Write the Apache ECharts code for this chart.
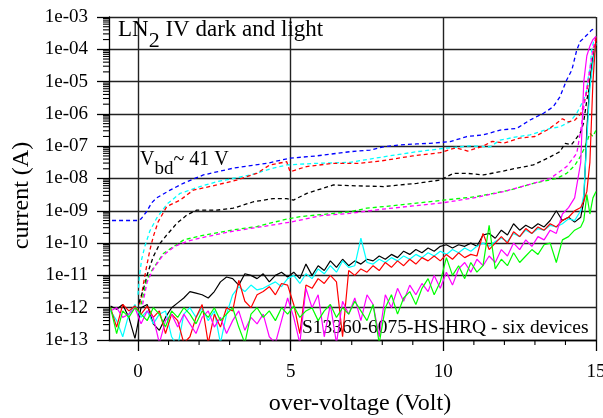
<!DOCTYPE html>
<html><head><meta charset="utf-8">
<script src="https://cdn.jsdelivr.net/npm/echarts@6/dist/echarts.min.js"></script>
<style>html,body{margin:0;padding:0;background:#fff}#c{width:603px;height:418px}</style>
</head><body><div id="c"></div>
<script>
// ---- axis ranges and tick labels ----
const xMin = -0.95, xMax = 15, yMinExp = -13, yMaxExp = -3;
const yTickLabels = ['1e-13','1e-12','1e-11','1e-10','1e-09','1e-08','1e-07','1e-06','1e-05','1e-04','1e-03'];
const xTickValues = [0, 5, 10, 15];
const xMinorTickValues = [1,2,3,4,6,7,8,9,11,12,13,14];

// ---- dark (solid) curves: common voltage grid, values are log10(current/A) ----
const darkV = [-0.9,-0.7,-0.5,-0.3,-0.1,0.1,0.3,0.5,0.7,0.9,1.1,1.3,1.5,1.7,1.9,2.1,2.3,2.5,2.7,2.9,3.1,3.3,3.5,3.7,3.9,4.1,4.3,4.5,4.7,4.9,5.1,5.3,5.5,5.7,5.9,6.1,6.3,6.5,6.7,6.9,7.1,7.3,7.5,7.7,7.9,8.1,8.3,8.5,8.7,8.9,9.1,9.3,9.5,9.7,9.9,10.1,10.3,10.5,10.7,10.9,11.1,11.3,11.5,11.7,11.9,12.1,12.3,12.5,12.7,12.9,13.1,13.3,13.5,13.7,13.9,14.1,14.3,14.5,14.6,14.7,14.8,14.9,15.0];
const darkBlack = [-11.95,-12.05,-11.9,-12.3,-12.95, -12.0,-11.9,-12.5,-12.7,-12.3, -12.0,-11.85,-11.7,-11.5,-11.55, -11.6,-11.7,-11.5,-11.2,-11.05, -11.1,-11.3,-10.95,-11.0,-11.1, -10.95,-11.2,-11.0,-10.9,-11.05, -10.9,-11.1,-10.65,-11.0,-10.7, -10.85,-10.55,-10.75,-10.5,-10.7, -10.55,-10.65,-10.5,-10.55,-10.4, -10.5,-10.35,-10.45,-10.25,-10.35, -10.2,-10.3,-10.15,-10.25,-10.1, -10.05,-10.15,-10.05,-10.1,-10.0, -10.1,-9.75,-9.7,-9.85,-9.6, -9.75,-9.4,-9.6,-9.45,-9.55, -9.4,-9.5,-9.3,-9.0,-9.3, -9.2,-9.35,-9.2,-8.7,-6.5, -5.0,-4.3,-3.9];
const darkRed = [-12.0,-12.6,-11.9,-12.1,-11.95, -12.2,-11.95,-12.3,-12.1,-12.8, -12.2,-12.4,-13.1,-12.9,-12.3, -11.9,-13.1,-12.2,-12.6,-12.0, -12.1,-11.15,-11.8,-12.0,-11.6, -11.5,-11.35,-11.6,-11.25,-11.3, -11.9,-12.8,-11.3,-11.4,-11.1, -11.25,-11.0,-11.2,-12.9,-10.85, -11.0,-10.8,-10.9,-10.7,-10.85, -10.6,-10.75,-10.55,-10.7,-10.5, -10.65,-10.45,-10.55,-10.4,-10.55, -10.35,-10.5,-10.3,-10.45,-10.35, -10.4,-9.7,-10.2,-10.0,-9.8, -10.0,-9.65,-9.8,-9.55,-9.7, -9.5,-9.6,-9.4,-9.5,-9.3, -9.2,-9.0,-8.9,-8.7,-8.4, -7.5,-5.0,-3.6];
const darkCyan = [-12.1,-12.4,-12.9,-12.2,-11.9, -12.3,-12.1,-12.5,-12.2,-12.1, -12.9,-13.2,-12.2,-12.0,-12.3, -12.0,-12.4,-12.1,-13.1,-12.2, -11.6,-11.35,-11.5,-11.3,-11.45, -11.4,-11.3,-11.2,-11.35,-11.1, -11.0,-11.25,-10.95,-11.1,-10.8, -10.95,-10.7,-10.9,-10.55,-10.75, -10.7,-9.85,-10.6,-10.65,-10.5, -10.6,-10.45,-10.55,-10.4,-10.5, -10.35,-10.45,-10.3,-10.4,-10.25, -10.35,-10.2,-10.3,-10.15,-10.25, -10.1,-10.0,-10.1,-9.95,-9.85, -9.95,-9.7,-9.8,-9.6,-9.7, -9.55,-9.6,-9.45,-9.5,-9.4, -9.25,-9.3,-9.0,-8.5,-6.8, -5.2,-4.4,-3.8];
const darkMagenta = [-12.1,-12.0,-12.3,-12.2,-12.0, -12.5,-12.1,-12.3,-13.1,-12.4, -12.2,-12.6,-12.2,-12.5,-12.8, -12.3,-12.1,-12.6,-12.3,-12.8, -12.4,-12.1,-12.7,-12.3,-12.5, -12.2,-12.9,-13.1,-12.4,-11.7, -12.3,-13.1,-11.4,-12.0,-11.6, -12.9,-11.9,-13.1,-11.8,-12.2, -11.7,-12.4,-11.6,-11.9,-12.9, -11.6,-12.0,-11.4,-11.8,-11.3, -11.6,-11.25,-11.5,-11.0,-11.4, -10.9,-11.3,-10.8,-10.6,-10.9, -10.5,-10.7,-10.4,-10.6,-10.2, -10.4,-10.0,-10.2,-9.9,-10.1, -9.8,-9.9,-9.6,-9.7,-9.1, -8.9,-8.6,-7.5,-5.0,-4.2, -3.9,-3.7,-3.6];
const darkGreen = [-12.0,-12.8,-12.1,-12.3,-12.0, -12.2,-12.4,-12.0,-12.2,-12.6, -12.1,-12.3,-12.0,-12.2,-12.5, -12.1,-12.3,-12.0,-12.4,-12.2, -12.0,-12.6,-13.1,-12.2,-12.0, -12.3,-12.1,-12.4,-12.0,-12.2, -11.95,-12.3,-12.1,-12.0,-12.4, -12.1,-11.9,-12.3,-12.0,-12.2, -11.8,-12.1,-12.4,-11.9,-13.1, -12.0,-11.6,-12.2,-11.7,-11.5, -11.9,-11.4,-11.1,-11.6,-11.2, -10.45,-11.0,-10.7,-11.1,-10.6, -10.9,-10.7,-9.45,-10.8,-10.5, -10.7,-10.3,-10.6,-10.4,-10.2, -10.35,-10.05,-10.0,-10.6,-9.9, -9.8,-9.6,-9.5,-9.3,-8.5, -9.1,-8.6,-8.4];

// ---- light (dashed) curves: [voltage, log10(current/A)] ----
const lightBlue = [[-0.85,-9.3],[-0.4,-9.3],[0.0,-9.3],[0.1,-9.25],[0.28,-9.03],[0.45,-8.75],[0.61,-8.6],[1.05,-8.36],[1.48,-8.15],[2.14,-7.89],[3.12,-7.68],[4.22,-7.53],[4.98,-7.37],[5.85,-7.30],[6.94,-7.17],[7.60,-7.12],[8.03,-7.02],[8.58,-6.96],[9.13,-6.93],[9.56,-6.91],[10.22,-6.86],[10.77,-6.70],[11.31,-6.65],[11.86,-6.50],[12.40,-6.45],[12.84,-6.19],[13.28,-5.98],[13.60,-5.78],[13.82,-5.47],[14.04,-4.95],[14.21,-4.64],[14.37,-4.02],[14.48,-3.76],[14.70,-3.56],[14.86,-3.40],[15.0,-3.35]];
const lightCyan = [[0.0,-11.6],[0.05,-11.0],[0.12,-10.5],[0.23,-10.08],[0.39,-9.62],[0.61,-9.23],[0.94,-8.8],[1.38,-8.46],[2.03,-8.25],[2.58,-8.10],[3.68,-7.89],[4.43,-7.68],[4.87,-7.58],[5.86,-7.53],[6.94,-7.5],[8.03,-7.33],[9.13,-7.17],[10.0,-7.07],[10.55,-7.02],[10.87,-6.99],[11.53,-7.02],[11.86,-6.81],[12.40,-6.71],[12.84,-6.65],[13.17,-6.55],[13.50,-6.45],[13.82,-6.40],[14.15,-6.24],[14.37,-5.98],[14.48,-5.78],[14.59,-5.57],[14.70,-5.26],[14.75,-4.85],[14.81,-4.54],[14.86,-4.02],[14.92,-3.76],[15.0,-3.6]];
const lightRed = [[0.05,-11.9],[0.12,-11.61],[0.17,-11.30],[0.28,-10.73],[0.39,-10.21],[0.50,-9.80],[0.66,-9.34],[0.94,-8.87],[1.38,-8.67],[1.81,-8.36],[2.58,-8.20],[3.23,-8.05],[3.89,-7.84],[4.32,-7.58],[4.87,-7.48],[4.98,-7.79],[5.52,-7.63],[6.39,-7.53],[7.27,-7.53],[8.0,-7.45],[9.0,-7.3],[9.9,-7.2],[10.4,-7.05],[10.8,-7.15],[11.3,-7.0],[11.6,-6.85],[12.0,-6.9],[12.5,-6.75],[13.0,-6.7],[13.4,-6.5],[13.7,-6.3],[13.9,-6.15],[14.1,-6.25],[14.3,-6.2],[14.5,-6.0],[14.6,-5.7],[14.7,-5.3],[14.8,-4.8],[14.9,-4.2],[15.0,-3.7]];
const lightBlack = [[0.03,-11.85],[0.17,-11.45],[0.33,-10.89],[0.50,-10.42],[0.72,-10.01],[0.94,-9.75],[1.27,-9.39],[1.60,-9.13],[1.92,-8.98],[2.58,-8.98],[3.12,-8.92],[3.78,-8.72],[4.43,-8.62],[4.87,-8.62],[5.09,-8.67],[5.53,-8.46],[6.40,-8.20],[6.94,-8.22],[8.03,-8.25],[9.13,-8.15],[9.89,-8.05],[10.33,-7.84],[10.77,-7.84],[11.31,-7.89],[11.86,-7.79],[12.40,-7.68],[12.95,-7.58],[13.50,-7.33],[13.82,-7.17],[13.99,-6.91],[14.2,-6.95],[14.48,-6.60],[14.59,-6.29],[14.70,-5.57],[14.81,-5.05],[14.86,-4.54],[14.95,-4.02]];
const lightGreen = [[0.1,-11.9],[0.2,-11.5],[0.28,-11.15],[0.45,-10.85],[0.61,-10.63],[0.83,-10.32],[1.16,-10.11],[1.5,-9.9],[2.03,-9.78],[3.12,-9.59],[3.89,-9.49],[4.76,-9.28],[5.31,-9.18],[6.40,-9.08],[6.94,-9.03],[7.49,-8.92],[8.58,-8.82],[10.0,-8.67],[11.09,-8.56],[12.18,-8.36],[12.95,-8.15],[13.71,-8.0],[14.04,-7.84],[14.3,-7.6],[14.5,-7.3],[14.65,-7.0],[14.8,-6.6],[14.9,-6.7],[15.0,-6.5]];
const lightMagenta = [[0.15,-11.9],[0.3,-11.2],[0.5,-10.8],[0.8,-10.4],[1.2,-10.1],[1.6,-9.95],[2.0,-9.85],[3.0,-9.65],[4.0,-9.5],[5.0,-9.35],[6.0,-9.15],[6.94,-9.08],[8.0,-8.95],[9.0,-8.85],[10.0,-8.75],[11.0,-8.6],[12.0,-8.4],[12.95,-8.15],[13.5,-8.0],[14.04,-7.63],[14.37,-7.22],[14.5,-6.5],[14.6,-5.8],[14.7,-5.2],[14.8,-4.6],[14.9,-4.0],[15.0,-3.6]];

// minor tick positions of the logarithmic current axis (2..9 x 10^k)
const yMinorTickValues = [];
for (let e = yMinExp; e < yMaxExp; e++) for (let k = 2; k <= 9; k++) yMinorTickValues.push(e + Math.log10(k));

const FONT = '"Liberation Serif", "Times New Roman", serif';
const chart = echarts.init(document.getElementById('c'), null, {renderer: 'canvas'});

function solid(name, color, ys) {
  return {name, type: 'line', data: darkV.map((v, i) => [v, ys[i]]), symbol: 'none', clip: true,
    lineStyle: {color, width: 1.2}, z: 4, animation: false};
}
function dashed(name, color, pts) {
  return {name, type: 'line', data: pts, symbol: 'none', clip: true,
    lineStyle: {color, width: 1.3, type: [4, 3]}, z: 3, animation: false};
}
// short minor tick marks placed through the axis scales
function tickSeries(name, values, vertical, len) {
  return {
    name, type: 'custom', silent: true, clip: false, z: 6, animation: false,
    data: values.map(v => vertical ? [v, yMinExp] : [xMin, v]),
    renderItem: (params, api) => {
      const p = api.coord([api.value(0), api.value(1)]);
      const shape = vertical ? {x1: p[0], y1: p[1], x2: p[0], y2: p[1] + len}
                             : {x1: p[0] - len, y1: p[1], x2: p[0], y2: p[1]};
      return {type: 'line', shape, style: {stroke: '#000', lineWidth: 1.1}};
    }
  };
}

const gridLine = {show: true, lineStyle: {color: '#222', width: 1.4}};

chart.setOption({
  animation: false,
  backgroundColor: '#fff',
  grid: {left: 109, right: 7, top: 17, bottom: 78, containLabel: false, outerBoundsMode: 'none'},
  xAxis: {
    type: 'value', min: xMin, max: xMax, position: 'bottom',
    axisLine: {show: true, onZero: false, lineStyle: {color: '#000', width: 1.3}},
    axisTick: {show: true, customValues: xTickValues, length: 11, lineStyle: {color: '#000', width: 1.3}},
    axisLabel: {customValues: xTickValues, margin: 23, fontSize: 19, fontFamily: FONT, color: '#000'},
    splitLine: gridLine
  },
  yAxis: {
    type: 'value', min: yMinExp, max: yMaxExp, interval: 1, position: 'left',
    axisLine: {show: true, onZero: false, lineStyle: {color: '#000', width: 1.3}},
    axisTick: {show: true, length: 12, lineStyle: {color: '#000', width: 1.3}},
    axisLabel: {margin: 21, fontSize: 19, fontFamily: FONT, color: '#000',
      formatter: v => yTickLabels[Math.round(v) - yMinExp]},
    splitLine: gridLine
  },
  graphic: [
    {type: 'text', x: 118, y: 18, z: 10, style: {
      text: '{a|LN}{s|2}{a| IV dark and light}', verticalAlign: 'top', fill: '#000',
      rich: {a: {fontSize: 23, fontFamily: FONT, lineHeight: 23, verticalAlign: 'top'},
             s: {fontSize: 22, fontFamily: FONT, lineHeight: 23, verticalAlign: 'top', padding: [12, 0, 0, 0]}}}},
    {type: 'text', x: 140, y: 150, z: 10, style: {
      text: '{a|V}{s|bd}{a|~ 41 V}', verticalAlign: 'top', fill: '#000',
      rich: {a: {fontSize: 20, fontFamily: FONT, lineHeight: 20, verticalAlign: 'top'},
             s: {fontSize: 19, fontFamily: FONT, lineHeight: 20, verticalAlign: 'top', padding: [10, 0, 0, 0]}}}},
    {type: 'text', x: 588.5, y: 318, z: 1, style: {
      text: 'S13360-6075-HS-HRQ - six devices', fontSize: 19.5, fontFamily: FONT, fill: '#000',
      align: 'right', verticalAlign: 'top'}},
    {type: 'text', x: 22, y: 195.5, rotation: Math.PI / 2, z: 10, style: {
      text: 'current (A)', fontSize: 24, fontFamily: FONT, fill: '#000', align: 'center', verticalAlign: 'middle'}},
    {type: 'text', x: 360, y: 404, z: 10, style: {
      text: 'over-voltage (Volt)', fontSize: 24, fontFamily: FONT, fill: '#000', align: 'center', verticalAlign: 'middle'}}
  ],
  series: [
    dashed('light blue', '#0000ff', lightBlue),
    dashed('light cyan', '#00ffff', lightCyan),
    dashed('light red', '#ff0000', lightRed),
    dashed('light black', '#000000', lightBlack),
    dashed('light green', '#00ff00', lightGreen),
    dashed('light magenta', '#ff00ff', lightMagenta),
    solid('dark black', '#000000', darkBlack),
    solid('dark cyan', '#00ffff', darkCyan),
    solid('dark red', '#ff0000', darkRed),
    solid('dark magenta', '#ff00ff', darkMagenta),
    solid('dark green', '#00ff00', darkGreen),
    tickSeries('x minor ticks', xMinorTickValues, true, 5),
    tickSeries('y minor ticks', yMinorTickValues, false, 6)
  ]
});
</script></body></html>
